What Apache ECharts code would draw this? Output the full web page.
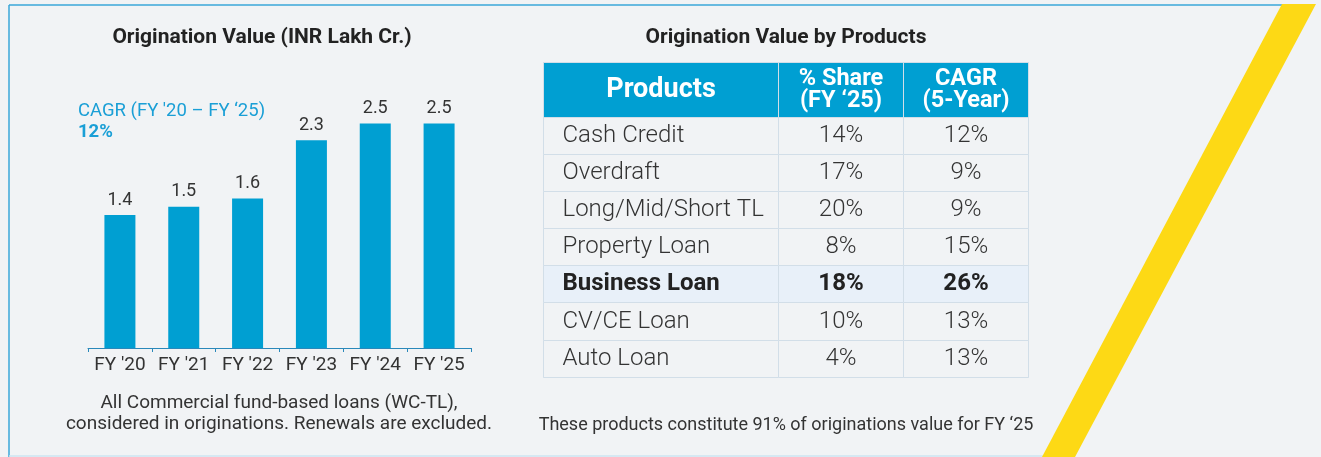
<!DOCTYPE html>
<html><head><meta charset="utf-8">
<script src="https://cdn.jsdelivr.net/npm/echarts@6/dist/echarts.min.js"></script>
<style>html,body{margin:0;padding:0;background:#f1f3f5;}#c{width:1321px;height:457px;}</style>
</head><body><div id="c"></div>
<script>
// ---- data ----
const years = ["FY '20", "FY '21", "FY '22", "FY '23", "FY '24", "FY '25"];
const originationValue = [1.4, 1.5, 1.6, 2.3, 2.5, 2.5];
const cagrLabel = "CAGR (FY '20 – FY ‘25)";
const cagrValue = '12%';
const products = ['Cash Credit', 'Overdraft', 'Long/Mid/Short TL', 'Property Loan', 'Business Loan', 'CV/CE Loan', 'Auto Loan'];
const sharePct = [14, 17, 20, 8, 18, 10, 4];
const cagrPct = [12, 9, 9, 15, 26, 13, 13];
const tableHeaders = ['Products', '% Share\n(FY ‘25)', 'CAGR\n(5-Year)'];
const highlightProduct = 'Business Loan';
const leftTitle = 'Origination Value (INR Lakh Cr.)';
const rightTitle = 'Origination Value by Products';
const leftNote = 'All Commercial fund-based loans (WC-TL),\nconsidered in originations. Renewals are excluded.';
const rightNote = 'These products constitute 91% of originations value for FY ‘25';

// ---- styles ----
const FONT = 'Roboto';
const BLUE = '#009fd2';
const GRID_LINE = '#d2dee8';
const BG = '#f1f3f5';

const bodyCells = [];
products.forEach((p, i) => {
  const hl = p === highlightProduct;
  const bg = hl ? '#e8f0f9' : BG;
  const lab = hl ? {fontWeight: 'bold', color: '#222'} : {};
  bodyCells.push({coord: [0, i], value: p, itemStyle: {color: bg},
    label: Object.assign({position: 'insideLeft', distance: 16, overflow: 'none', width: 230}, lab)});
  bodyCells.push({coord: [1, i], value: sharePct[i] + '%', itemStyle: {color: bg}, label: lab});
  bodyCells.push({coord: [2, i], value: cagrPct[i] + '%', itemStyle: {color: bg}, label: lab});
});

const chart = echarts.init(document.getElementById('c'), null, {renderer: 'canvas'});
chart.setOption({
  backgroundColor: BG,
  animation: false,
  textStyle: {fontFamily: FONT},
  title: [
    {text: leftTitle, left: 257, top: 22, textAlign: 'center',
     textStyle: {fontSize: 21, fontWeight: 'bold', color: '#222', fontFamily: FONT}},
    {text: rightTitle, left: 781, top: 22, textAlign: 'center',
     textStyle: {fontSize: 21, fontWeight: 'bold', color: '#222', fontFamily: FONT}},
    {text: '{a|' + cagrLabel + '}\n{b|' + cagrValue + '}', left: 73, top: 96,
     textStyle: {fontWeight: 'normal', rich: {
       a: {fontSize: 18.5, color: '#1a9fd6', fontWeight: 'normal', fontFamily: FONT, lineHeight: 21},
       b: {fontSize: 18.5, color: '#1a9fd6', fontWeight: 'bold', fontFamily: FONT, lineHeight: 21}}}},
    {text: leftNote, left: 274, top: 388, textAlign: 'center',
     textStyle: {fontSize: 19, fontWeight: 'normal', color: '#333', lineHeight: 21, fontFamily: FONT}},
    {text: rightNote, left: 781, top: 411, textAlign: 'center',
     textStyle: {fontSize: 18, fontWeight: 'normal', color: '#333', fontFamily: FONT}}
  ],
  grid: {left: 88, width: 383, top: 82, height: 266},
  xAxis: {
    type: 'category', data: years,
    axisLine: {onZero: false, lineStyle: {color: '#2a88ba', width: 1}},
    axisTick: {show: true, length: 4, interval: 0, lineStyle: {color: '#2a88ba'}},
    axisLabel: {color: '#333', fontSize: 19, margin: 8, interval: 0, hideOverlap: false, fontFamily: FONT}
  },
  yAxis: {type: 'value', min: -0.2, max: 3.0, startValue: -0.2, show: false, splitLine: {show: false}},
  matrix: {
    left: 543, top: 62, width: 485, height: 315,
    x: {
      show: true,
      levelSize: 55,
      data: [{value: tableHeaders[0], size: 235, label: {fontSize: 27}}, tableHeaders[1], tableHeaders[2]],
      itemStyle: {color: BLUE, borderColor: GRID_LINE, borderWidth: 1},
      label: {color: '#fff', fontWeight: 'bold', fontSize: 23.5, lineHeight: 22, fontFamily: FONT}
    },
    y: {show: false, data: products},
    body: {
      data: bodyCells,
      itemStyle: {color: BG, borderColor: GRID_LINE, borderWidth: 1},
      label: {color: '#333', fontSize: 24, fontFamily: FONT, fontWeight: 300}
    },
    backgroundStyle: {color: 'transparent', borderColor: GRID_LINE, borderWidth: 1}
  },
  series: [{
    type: 'bar', data: originationValue, barWidth: 31,
    itemStyle: {color: BLUE},
    label: {show: true, position: 'top', distance: 6, fontSize: 18, color: '#333', fontFamily: FONT}
  }],
  graphic: [
    {type: 'line', shape: {x1: 9, y1: 5, x2: 1284, y2: 5}, style: {stroke: '#3aa7d8', lineWidth: 1.5}},
    {type: 'line', shape: {x1: 9, y1: 5, x2: 9, y2: 457}, style: {stroke: '#3aa7d8', lineWidth: 1.5}},
    {type: 'line', shape: {x1: 9, y1: 456, x2: 1044, y2: 456}, style: {stroke: '#cde5f1', lineWidth: 1.5}},
    {type: 'polygon', shape: {points: [[1282, 4], [1316, 4], [1075, 457], [1042, 457]]},
     style: {fill: '#fdd915'}, z: 10}
  ]
});
</script></body></html>
